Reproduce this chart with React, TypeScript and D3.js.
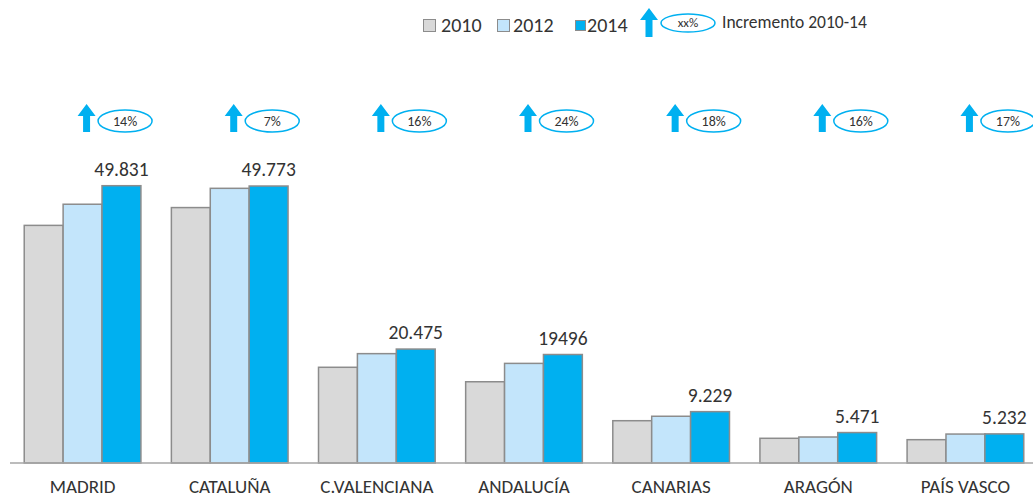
import React from "react";
import * as d3 from "d3";

const categories = ["MADRID", "CATALUÑA", "C.VALENCIANA", "ANDALUCÍA", "CANARIAS", "ARAGÓN", "PAÍS VASCO"];
const years = ["2010", "2012", "2014"];
const values2010 = [42700, 45900, 17200, 14600, 7600, 4440, 4190];
const values2012 = [46500, 49360, 19650, 17900, 8400, 4670, 5200];
const values2014 = [49831, 49773, 20475, 19496, 9229, 5471, 5232];
const valueLabels = ["49.831", "49.773", "20.475", "19496", "9.229", "5.471", "5.232"];
const increments = ["14%", "7%", "16%", "24%", "18%", "16%", "17%"];

const W = 1033;
const H = 499;
const FONT = "Carlito, Lato, 'Open Sans', sans-serif";
const colors = ["#d9d9d9", "#c3e5fb", "#00b0f0"];
const TEXT = "#333333";

function Arrow({ cx, top, bottom }: { cx: number; top: number; bottom: number }) {
  const headH = 12;
  const headW = 9;
  const shaft = 3.5;
  const p = d3.path();
  p.moveTo(cx, top);
  p.lineTo(cx + headW, top + headH);
  p.lineTo(cx + shaft, top + headH);
  p.lineTo(cx + shaft, bottom);
  p.lineTo(cx - shaft, bottom);
  p.lineTo(cx - shaft, top + headH);
  p.lineTo(cx - headW, top + headH);
  p.closePath();
  return <path d={p.toString()} fill="#00b0f0" />;
}

export default function App() {
  const baseline = 463;
  const x = d3.scaleBand<string>().domain(categories).range([9, 1039]).paddingInner(0.207).paddingOuter(0.1035);
  const xs = d3.scaleBand<string>().domain(years).range([0, x.bandwidth()]);
  const y = d3.scaleLinear().domain([0, 49831]).range([baseline, 185.7]);
  const series = [values2010, values2012, values2014];

  return (
    <svg width={W} height={H} style={{ position: "absolute", left: 0, top: 0, background: "#fff" }} fontFamily={FONT}>
      {/* legend */}
      <g>
        <rect x={423.5} y={19.5} width={12} height={12} fill={colors[0]} stroke="#8c8c8c" strokeWidth={1} />
        <text x={441} y={32} fontSize={20} fill={TEXT}>2010</text>
        <rect x={497.5} y={19.5} width={12} height={12} fill={colors[1]} stroke="#8c8c8c" strokeWidth={1} />
        <text x={513} y={32} fontSize={20} fill={TEXT}>2012</text>
        <rect x={575.5} y={20.5} width={10} height={10} fill={colors[2]} stroke="#8c8c8c" strokeWidth={1} />
        <text x={587} y={32} fontSize={20} fill={TEXT}>2014</text>
        <Arrow cx={649} top={8} bottom={37} />
        <ellipse cx={688} cy={23} rx={27} ry={9} fill="#fff" stroke="#00b0f0" strokeWidth={1.5} />
        <text x={688} y={27} fontSize={13} textAnchor="middle" fill={TEXT}>xx%</text>
        <text x={722} y={28} fontSize={17.5} fill={TEXT}>Incremento 2010-14</text>
      </g>

      {/* bars */}
      {categories.map((c, i) => (
        <g key={c} transform={`translate(${x(c)},0)`}>
          {series.map((s, j) => (
            <rect
              key={years[j]}
              x={xs(years[j])}
              y={y(s[i])}
              width={xs.bandwidth()}
              height={baseline - y(s[i])}
              fill={colors[j]}
              stroke="#8c8c8c"
              strokeWidth={1.5}
            />
          ))}
          <text
            x={(xs(years[2]) as number) + xs.bandwidth() / 2}
            y={y(values2014[i]) - 10}
            textAnchor="middle"
            fontSize={19.5}
            fill={TEXT}
          >
            {valueLabels[i]}
          </text>
          <text x={x.bandwidth() / 2} y={493} textAnchor="middle" fontSize={19} fill={TEXT}>
            {c}
          </text>
          <Arrow cx={x.bandwidth() / 2 + 4} top={104} bottom={132} />
          <ellipse cx={x.bandwidth() / 2 + 42.5} cy={121} rx={27} ry={11} fill="#fff" stroke="#00b0f0" strokeWidth={1.5} />
          <text x={x.bandwidth() / 2 + 42.5} y={126} textAnchor="middle" fontSize={14} fill={TEXT}>
            {increments[i]}
          </text>
        </g>
      ))}

      <line x1={10} x2={W} y1={baseline} y2={baseline} stroke="#a6a6a6" strokeWidth={1.5} />
    </svg>
  );
}
